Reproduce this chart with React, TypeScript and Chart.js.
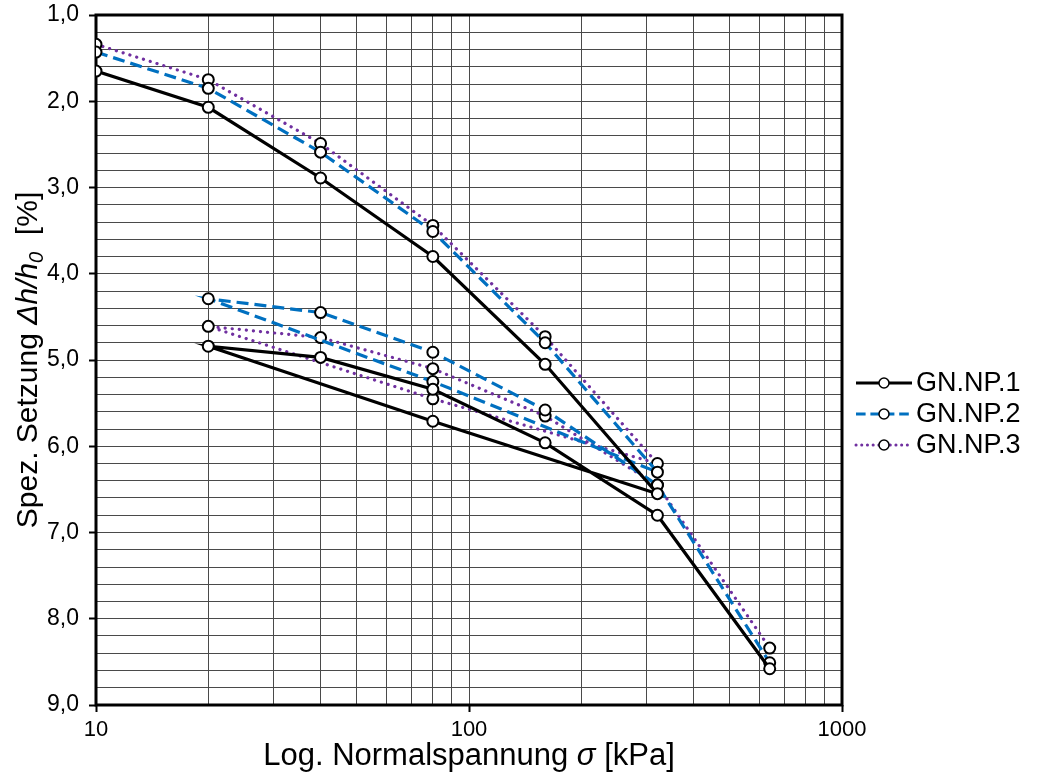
import React, { useEffect, useRef } from 'react';
import { Chart, registerables } from 'chart.js';

Chart.register(...registerables);

// Load path: loading 10→320, unloading 320→80→20, reloading 20→320, loading 640
const stressKPa = [10, 20, 40, 80, 160, 320, 80, 20, 40, 80, 160, 320, 640];
const settlementNP1 = [1.65, 2.07, 2.89, 3.8, 5.05, 6.55, 5.71, 4.84, 4.97, 5.34, 5.96, 6.8, 8.58];
const settlementNP2 = [1.43, 1.85, 2.59, 3.51, 4.8, 6.3, 5.25, 4.29, 4.45, 4.91, 5.58, 6.45, 8.51];
const settlementNP3 = [1.34, 1.75, 2.49, 3.44, 4.73, 6.2, 5.45, 4.61, 4.74, 5.1, 5.65, 6.45, 8.34];
const seriesNames = ['GN.NP.1', 'GN.NP.2', 'GN.NP.3'];
const seriesColors = ['#000000', '#0070C0', '#7030A0'];

const xGridValues = [10, 20, 30, 40, 50, 60, 70, 80, 90, 100, 200, 300, 400, 500, 600, 700, 800, 900, 1000];
const xLabelValues = [10, 100, 1000];
const xTickLabels = ['10', '100', '1000'];

const yGridValues = [
  1.0, 1.2, 1.4, 1.6, 1.8, 2.0, 2.2, 2.4, 2.6, 2.8, 3.0, 3.2, 3.4, 3.6, 3.8, 4.0, 4.2, 4.4, 4.6, 4.8, 5.0,
  5.2, 5.4, 5.6, 5.8, 6.0, 6.2, 6.4, 6.6, 6.8, 7.0, 7.2, 7.4, 7.6, 7.8, 8.0, 8.2, 8.4, 8.6, 8.8, 9.0,
];
const yLabelValues = [1, 2, 3, 4, 5, 6, 7, 8, 9];
const yTickLabels = ['1,0', '2,0', '3,0', '4,0', '5,0', '6,0', '7,0', '8,0', '9,0'];

const xTitleRuns = [
  { text: 'Log. Normalspannung ', style: 'n' },
  { text: 'σ', style: 'i' },
  { text: ' [kPa]', style: 'n' },
];
const yTitleRuns = [
  { text: 'Spez. Setzung ', style: 'n' },
  { text: 'Δh/h', style: 'i' },
  { text: '0', style: 'sub' },
  { text: '  [%]', style: 'n' },
];

const FONT = "'Liberation Sans', Arial, sans-serif";
const dashes = [[], [12, 6], [0.1, 7]];
const caps = ['butt', 'butt', 'round'];

function runFont(style: string, size: number) {
  if (style === 'i') return `italic ${size}px ${FONT}`;
  if (style === 'sub') return `italic ${Math.round(size * 0.65)}px ${FONT}`;
  return `${size}px ${FONT}`;
}

function drawRuns(ctx: CanvasRenderingContext2D, runs: { text: string; style: string }[], cx: number, cy: number, size: number) {
  let total = 0;
  const widths = runs.map((r) => {
    ctx.font = runFont(r.style, size);
    const w = ctx.measureText(r.text).width;
    total += w;
    return w;
  });
  let x = cx - total / 2;
  ctx.fillStyle = '#000';
  ctx.textBaseline = 'middle';
  ctx.textAlign = 'left';
  runs.forEach((r, i) => {
    ctx.font = runFont(r.style, size);
    ctx.fillText(r.text, x, r.style === 'sub' ? cy + size * 0.28 : cy);
    x += widths[i];
  });
}

const decorPlugin = {
  id: 'decor',
  beforeDatasetsDraw(chart: any) {
    const { ctx, chartArea: a } = chart;
    ctx.save();
    ctx.strokeStyle = '#000';
    ctx.lineWidth = 3;
    ctx.strokeRect(a.left, a.top, a.right - a.left, a.bottom - a.top);
    ctx.restore();
  },
  afterDraw(chart: any) {
    const { ctx, chartArea: a } = chart;
    ctx.save();
    drawRuns(ctx, xTitleRuns, (a.left + a.right) / 2, 756, 31);
    ctx.save();
    ctx.translate(29, (a.top + a.bottom) / 2);
    ctx.rotate(-Math.PI / 2);
    drawRuns(ctx, yTitleRuns, 0, 0, 30);
    ctx.restore();

    // legend
    seriesNames.forEach((name, i) => {
      const y = a.top + 368 + i * 31;
      ctx.save();
      ctx.strokeStyle = seriesColors[i];
      ctx.lineWidth = 3;
      ctx.lineCap = caps[i] as CanvasLineCap;
      ctx.setLineDash(dashes[i].map((d) => (d > 1 ? d * 0.8 : d)));
      ctx.beginPath();
      ctx.moveTo(a.right + 14, y);
      ctx.lineTo(a.right + 70, y);
      ctx.stroke();
      ctx.setLineDash([]);
      ctx.beginPath();
      ctx.arc(a.right + 42, y, 5, 0, Math.PI * 2);
      ctx.fillStyle = '#fff';
      ctx.fill();
      ctx.lineWidth = 1.5;
      ctx.strokeStyle = '#000';
      ctx.stroke();
      ctx.fillStyle = '#000';
      ctx.font = `27px ${FONT}`;
      ctx.textBaseline = 'middle';
      ctx.textAlign = 'left';
      ctx.fillText(name, a.right + 74, y + 1);
      ctx.restore();
    });
    ctx.restore();
  },
};

export default function App() {
  const ref = useRef<HTMLCanvasElement>(null);
  useEffect(() => {
    const canvas = ref.current!;
    const series = [settlementNP1, settlementNP2, settlementNP3];
    const chart = new Chart(canvas, {
      type: 'scatter',
      data: {
        datasets: series.map((vals, i) => ({
          label: seriesNames[i],
          data: vals.map((y, j) => ({ x: stressKPa[j], y })),
          showLine: true,
          borderColor: seriesColors[i],
          borderWidth: 3.2,
          borderDash: dashes[i],
          borderCapStyle: caps[i],
          pointRadius: 5.5,
          pointBorderWidth: 2,
          pointBorderColor: '#000',
          pointBackgroundColor: '#fff',
          tension: 0,
        })),
      } as any,
      options: {
        responsive: false,
        animation: false,
        devicePixelRatio: 1,
        layout: { padding: { top: 15, right: 221, left: 0, bottom: 0 } },
        plugins: { legend: { display: false }, tooltip: { enabled: false } },
        scales: {
          x: {
            type: 'logarithmic',
            min: 10,
            max: 1000,
            afterBuildTicks: (s: any) => {
              s.ticks = xGridValues.map((v) => ({ value: v }));
            },
            afterFit: (s: any) => {
              s.height = 71;
              s.paddingLeft = 0;
              s.paddingRight = 0;
            },
            ticks: {
              autoSkip: false,
              maxRotation: 0,
              padding: 5,
              color: '#000',
              font: { family: FONT, size: 22 },
              callback: (v: any) => {
                const k = xLabelValues.indexOf(Number(v));
                return k >= 0 ? xTickLabels[k] : '';
              },
            },
            grid: {
              color: '#4a4a4a',
              lineWidth: 1,
              tickLength: 7,
              tickWidth: 2,
              tickColor: (c: any) => (c.tick && xLabelValues.includes(c.tick.value) ? '#000' : 'rgba(0,0,0,0)'),
            },
            border: { display: false },
          },
          y: {
            type: 'linear',
            reverse: true,
            min: 1,
            max: 9,
            afterBuildTicks: (s: any) => {
              s.ticks = yGridValues.map((v) => ({ value: v }));
            },
            afterFit: (s: any) => {
              s.width = 96;
              s.paddingTop = 0;
              s.paddingBottom = 0;
            },
            ticks: {
              autoSkip: false,
              padding: 10,
              color: '#000',
              font: { family: FONT, size: 23 },
              callback: (v: any) => {
                const k = yLabelValues.findIndex((t) => Math.abs(t - Number(v)) < 1e-6);
                return k >= 0 ? yTickLabels[k] : '';
              },
            },
            grid: {
              color: '#4a4a4a',
              lineWidth: 1,
              tickLength: 7,
              tickWidth: 2,
              tickColor: (c: any) =>
                c.tick && yLabelValues.some((t) => Math.abs(t - c.tick.value) < 1e-6) ? '#000' : 'rgba(0,0,0,0)',
            },
            border: { display: false },
          },
        },
      } as any,
      plugins: [decorPlugin],
    });
    return () => chart.destroy();
  }, []);
  return (
    <div style={{ position: 'absolute', left: 0, top: 0, width: 1063, height: 776, background: '#fff' }}>
      <canvas ref={ref} width={1063} height={776} style={{ display: 'block', width: 1063, height: 776 }} />
    </div>
  );
}
